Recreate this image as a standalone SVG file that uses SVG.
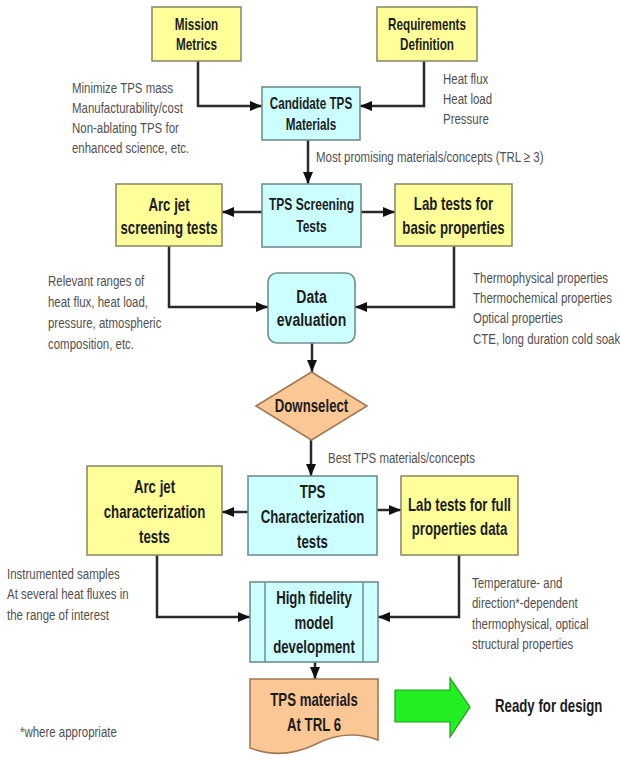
<svg xmlns="http://www.w3.org/2000/svg" width="620" height="758" viewBox="0 0 620 758">
<style>
.y{fill:#FFFF99;stroke:#8c8c6a;stroke-width:1.6}
.c{fill:#CCFFFF;stroke:#6f8f8f;stroke-width:1.6}
.o{fill:#FBC795;stroke:#a07a55;stroke-width:1.6}
.lb{font-family:"Liberation Sans",Arial,sans-serif;font-weight:bold;font-size:17.9px;fill:#1c1c1c;text-anchor:middle}
.lt{font-size:15.8px}
.an{font-family:"Liberation Sans",Arial,sans-serif;font-size:15.5px;fill:#505050}
.cn{fill:none;stroke:#2a2a2a;stroke-width:2.5;marker-end:url(#ah)}
</style>
<defs>
<marker id="ah" markerWidth="12" markerHeight="10" refX="12" refY="5" orient="auto" markerUnits="userSpaceOnUse"><path d="M0,0 L12,5 L0,10 z" fill="#111"/></marker>
</defs>
<rect width="620" height="758" fill="#fff"/>

<g id="connectors">
<path class="cn" d="M198 61 V106 H262"/>
<path class="cn" d="M424 61 V106 H360"/>
<path class="cn" d="M308 140 V184"/>
<path class="cn" d="M262 212 H222"/>
<path class="cn" d="M361 212 H395"/>
<path class="cn" d="M169 246 V307 H268"/>
<path class="cn" d="M454 246 V307 H355"/>
<path class="cn" d="M312 343 V372"/>
<path class="cn" d="M311 440 V476"/>
<path class="cn" d="M248 512 H222"/>
<path class="cn" d="M377 510 H401"/>
<path class="cn" d="M157 555 V617 H250"/>
<path class="cn" d="M459 555 V617 H378"/>
<path class="cn" d="M315 662 V679"/>
</g>

<g id="mission">
<rect class="y" x="152" y="7" width="89" height="54"/>
<text class="lb lt" transform="translate(196.5 0) scale(0.74 1)"><tspan x="0" y="30.5">Mission</tspan><tspan x="0" y="50.5">Metrics</tspan></text>
</g>
<g id="requirements">
<rect class="y" x="377" y="7" width="100" height="54"/>
<text class="lb lt" transform="translate(427 0) scale(0.74 1)"><tspan x="0" y="30.5">Requirements</tspan><tspan x="0" y="50.5">Definition</tspan></text>
</g>
<g id="candidate">
<rect class="c" x="262" y="87" width="98" height="53"/>
<text class="lb lt" transform="translate(311 0) scale(0.74 1)"><tspan x="0" y="109.5">Candidate TPS</tspan><tspan x="0" y="130.5">Materials</tspan></text>
</g>

<g id="note-mission">
<text class="an" transform="translate(72 0) scale(0.74 1)"><tspan x="0" y="93.5">Minimize TPS mass</tspan><tspan x="0" y="113">Manufacturability/cost</tspan><tspan x="0" y="133">Non-ablating TPS for</tspan><tspan x="0" y="153">enhanced science, etc.</tspan></text>
</g>
<g id="note-req">
<text class="an" transform="translate(443 0) scale(0.74 1)"><tspan x="0" y="84.5">Heat flux</tspan><tspan x="0" y="104">Heat load</tspan><tspan x="0" y="124">Pressure</tspan></text>
</g>
<g id="note-promising">
<text class="an" transform="translate(316 0) scale(0.74 1)" x="0" y="162.5">Most promising materials/concepts (TRL ≥ 3)</text>
</g>

<g id="arcjet-screen">
<rect class="y" x="116" y="184" width="106" height="62"/>
<text class="lb" transform="translate(169 0) scale(0.74 1)"><tspan x="0" y="211">Arc jet</tspan><tspan x="0" y="234">screening tests</tspan></text>
</g>
<g id="tps-screening">
<rect class="c" x="262" y="184" width="99" height="63"/>
<text class="lb" style="font-size:16.3px" transform="translate(311.5 0) scale(0.74 1)"><tspan x="0" y="210.5">TPS Screening</tspan><tspan x="0" y="232.5">Tests</tspan></text>
</g>
<g id="lab-basic">
<rect class="y" x="395" y="184" width="117" height="62"/>
<text class="lb" transform="translate(453.5 0) scale(0.74 1)"><tspan x="0" y="210">Lab tests for</tspan><tspan x="0" y="234">basic properties</tspan></text>
</g>

<g id="note-arcjet">
<text class="an" transform="translate(48 0) scale(0.74 1)"><tspan x="0" y="286">Relevant ranges of</tspan><tspan x="0" y="307">heat flux, heat load,</tspan><tspan x="0" y="328">pressure, atmospheric</tspan><tspan x="0" y="349">composition, etc.</tspan></text>
</g>
<g id="note-lab">
<text class="an" transform="translate(473 0) scale(0.74 1)"><tspan x="0" y="283">Thermophysical properties</tspan><tspan x="0" y="303">Thermochemical properties</tspan><tspan x="0" y="323.5">Optical properties</tspan><tspan x="0" y="344">CTE, long duration cold soak</tspan></text>
</g>

<g id="data-eval">
<rect class="c" x="268" y="273" width="87" height="70" rx="9"/>
<text class="lb" style="font-size:19px" transform="translate(311.5 0) scale(0.74 1)"><tspan x="0" y="303">Data</tspan><tspan x="0" y="326">evaluation</tspan></text>
</g>

<g id="downselect">
<polygon class="o" points="256,406 311.5,372 367,406 311.5,440"/>
<text class="lb" transform="translate(311.5 0) scale(0.74 1)" x="0" y="412">Downselect</text>
</g>

<g id="note-best">
<text class="an" transform="translate(328 0) scale(0.74 1)" x="0" y="463.5">Best TPS materials/concepts</text>
</g>

<g id="arcjet-char">
<rect class="y" x="87" y="466" width="135" height="89"/>
<text class="lb" transform="translate(154.5 0) scale(0.74 1)"><tspan x="0" y="493">Arc jet</tspan><tspan x="0" y="518">characterization</tspan><tspan x="0" y="543">tests</tspan></text>
</g>
<g id="tps-char">
<rect class="c" x="248" y="476" width="129" height="79"/>
<text class="lb" transform="translate(312.5 0) scale(0.74 1)"><tspan x="0" y="498">TPS</tspan><tspan x="0" y="523">Characterization</tspan><tspan x="0" y="548">tests</tspan></text>
</g>
<g id="lab-full">
<rect class="y" x="401" y="476" width="117" height="79"/>
<text class="lb" transform="translate(459.5 0) scale(0.74 1)"><tspan x="0" y="511">Lab tests for full</tspan><tspan x="0" y="535">properties data</tspan></text>
</g>

<g id="note-instrumented">
<text class="an" transform="translate(7 0) scale(0.74 1)"><tspan x="0" y="579">Instrumented samples</tspan><tspan x="0" y="599.5">At several heat fluxes in</tspan><tspan x="0" y="620">the range of interest</tspan></text>
</g>
<g id="note-temperature">
<text class="an" transform="translate(472 0) scale(0.74 1)"><tspan x="0" y="588">Temperature- and</tspan><tspan x="0" y="608">direction*-dependent</tspan><tspan x="0" y="629">thermophysical, optical</tspan><tspan x="0" y="649">structural properties</tspan></text>
</g>

<g id="high-fidelity">
<rect class="c" x="250" y="582" width="128" height="80"/>
<line x1="265" y1="582" x2="265" y2="662" stroke="#6f8f8f" stroke-width="1.5"/>
<line x1="363" y1="582" x2="363" y2="662" stroke="#6f8f8f" stroke-width="1.5"/>
<text class="lb" transform="translate(314 0) scale(0.74 1)"><tspan x="0" y="604">High fidelity</tspan><tspan x="0" y="629">model</tspan><tspan x="0" y="653">development</tspan></text>
</g>

<g id="tps-trl6">
<path class="o" d="M250 679 H378 V740 Q346 728 314 745 Q282 760 250 748 Z"/>
<text class="lb" transform="translate(314 0) scale(0.74 1)"><tspan x="0" y="706">TPS materials</tspan><tspan x="0" y="731">At TRL 6</tspan></text>
</g>

<g id="ready-arrow">
<polygon points="395,690 450,690 450,678 470,707 450,737 450,722 395,722" fill="#22EE22" stroke="#1f9a1f" stroke-width="1.2"/>
</g>
<g id="ready">
<text class="lb" style="text-anchor:start" transform="translate(495 0) scale(0.74 1)" x="0" y="712.5">Ready for design</text>
</g>

<g id="note-where">
<text class="an" transform="translate(20 0) scale(0.74 1)" x="0" y="737.5">*where appropriate</text>
</g>
</svg>
